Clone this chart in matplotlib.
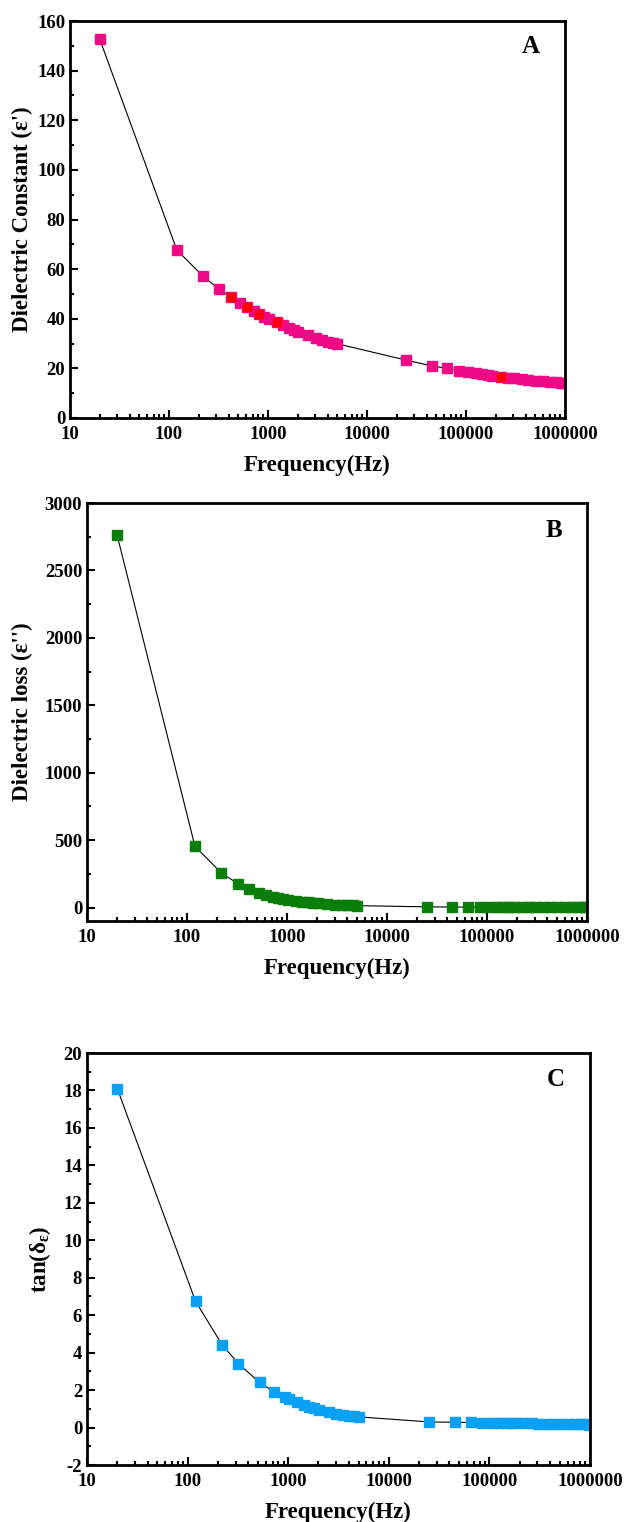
import matplotlib
matplotlib.use("Agg")
import matplotlib.pyplot as plt
from matplotlib.ticker import AutoMinorLocator, LogLocator, NullFormatter

plt.rcParams['font.family'] = ['Liberation Serif', 'DejaVu Serif']
plt.rcParams['font.weight'] = 'bold'
plt.rcParams['axes.unicode_minus'] = False
plt.rcParams['mathtext.fontset'] = 'custom'
plt.rcParams['mathtext.rm'] = 'Liberation Serif:bold'
plt.rcParams['mathtext.it'] = 'Liberation Serif:bold'
plt.rcParams['mathtext.bf'] = 'Liberation Serif:bold'

# ---------- data ----------
freq_a = [20, 120, 220, 320, 420, 520, 620, 720, 820, 920, 1020, 1220, 1420, 1620,
          1820, 2020, 2520, 3020, 3520, 4020, 4520, 5020,
          25000, 45000, 65000, 85000, 105000, 125000, 145000, 165000, 185000,
          225000, 265000, 305000, 365000, 425000, 505000, 605000, 705000, 805000,
          905000, 985000]
eps_real = [152.6, 67.7, 57.2, 51.9, 48.8, 46.5, 44.9, 43.3, 42.0, 40.8, 39.9, 38.5,
            37.4, 36.4, 35.5, 34.8, 33.3, 32.2, 31.4, 30.8, 30.3, 29.9,
            23.3, 21.0, 20.0, 19.1, 18.5, 18.1, 17.7, 17.4, 17.1,
            16.7, 16.3, 16.0, 15.7, 15.4, 15.0, 14.8, 14.6, 14.4, 14.3, 14.2]
red_freq = [420, 620, 820, 1220, 225000]

eps_imag = [2762, 455, 257, 178, 139, 109, 92, 80, 71, 64, 58, 49, 43, 38,
            34, 31, 26, 22, 19, 17, 15, 14,
            5, 3.5, 3, 2.5, 2.2, 2.0, 1.8, 1.6, 1.5,
            1.3, 1.2, 1.1, 1.0, 0.9, 0.8, 0.7, 0.6, 0.6, 0.5, 0.5]

freq_c = [20, 120, 220, 320, 520, 720, 920, 1020, 1220, 1420, 1620, 1820, 2020,
          2520, 3020, 3520, 4020, 4520, 5020,
          25000, 45000, 65000, 85000, 105000, 125000, 145000, 165000, 185000,
          225000, 265000, 305000, 365000, 425000, 505000, 605000, 705000, 805000,
          905000, 985000]
tan_d = [18.1, 6.74, 4.42, 3.41, 2.41, 1.91, 1.63, 1.52, 1.35, 1.22, 1.10, 1.02, 0.95,
         0.83, 0.74, 0.68, 0.63, 0.60, 0.57,
         0.30, 0.28, 0.27, 0.26, 0.25, 0.25, 0.24, 0.24, 0.23,
         0.22, 0.22, 0.21, 0.20, 0.20, 0.19, 0.18, 0.18, 0.17, 0.17, 0.16]

xticks = [10, 100, 1000, 10000, 100000, 1000000]
xtick_labels = ['10', '100', '1000', '10000', '100000', '1000000']


def style_axes(ax, ylim, yticks, ylabel, letter, ylabel_x):
    ax.set_xscale('log')
    ax.set_xlim(10, 1000000)
    ax.set_ylim(*ylim)
    ax.set_xticks(xticks)
    ax.set_xticklabels(xtick_labels)
    ax.xaxis.set_minor_locator(LogLocator(base=10, subs=range(2, 10), numticks=20))
    ax.xaxis.set_minor_formatter(NullFormatter())
    ax.set_yticks(yticks)
    ax.yaxis.set_minor_locator(AutoMinorLocator(2))
    ax.tick_params(which='both', direction='in', top=False, right=False,
                   labelsize=13.5, width=1.5)
    ax.tick_params(which='major', length=6)
    ax.tick_params(which='minor', length=3)
    ax.tick_params(axis='x', pad=6)
    for lab in ax.get_xticklabels() + ax.get_yticklabels():
        lab.set_fontweight('bold')
    for s in ax.spines.values():
        s.set_linewidth(2)
    ax.set_xlabel('Frequency(Hz)', fontsize=16.5, fontweight='bold', labelpad=8)
    ax.set_ylabel(ylabel, fontsize=16.5, fontweight='bold')
    ax.yaxis.set_label_coords(ylabel_x, 0.5)
    ax.text(0.95, 0.935, letter, transform=ax.transAxes, ha='right', va='center',
            fontsize=18, fontweight='bold')


fig = plt.figure(figsize=(6.24, 15.22), dpi=100)
W, H = 624, 1522


def add_ax(left, right, top, bottom):
    return fig.add_axes([left / W, 1 - bottom / H, (right - left) / W, (bottom - top) / H])


# panel A
ax1 = add_ax(70, 565, 21, 418)
ax1.plot(freq_a, eps_real, color='black', lw=0.8, zorder=1)
ax1.plot(freq_a, eps_real, ls='none', marker='s', ms=7, color='#EE0A84', zorder=2)
red_y = [eps_real[freq_a.index(f)] for f in red_freq]
ax1.plot(red_freq, red_y, ls='none', marker='s', ms=6, color='#FF0000', zorder=3)
style_axes(ax1, (0, 160), range(0, 161, 20), "Dielectric Constant (ε')", 'A', -0.075)

# panel B
ax2 = add_ax(87, 587, 503, 921)
ax2.plot(freq_a, eps_imag, color='black', lw=0.8, zorder=1)
ax2.plot(freq_a, eps_imag, ls='none', marker='s', ms=7, color='#0A7D0A', zorder=2)
style_axes(ax2, (-100, 3000), range(0, 3001, 500), "Dielectric loss (ε'')", 'B', -0.108)

# panel C
ax3 = add_ax(87, 590, 1053, 1465)
ax3.plot(freq_c, tan_d, color='black', lw=0.8, zorder=1)
ax3.plot(freq_c, tan_d, ls='none', marker='s', ms=7, color='#0AA0F5', zorder=2)
style_axes(ax3, (-2, 20), range(-2, 21, 2), r'tan(δ$_{ε}$)', 'C', -0.068)

fig.savefig('out.png', dpi=100)
